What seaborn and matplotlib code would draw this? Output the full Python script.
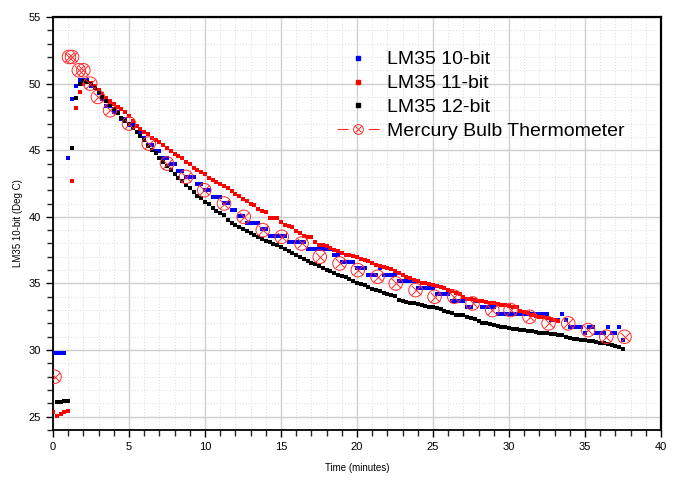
import numpy as np
import matplotlib
matplotlib.use("Agg")
import matplotlib.pyplot as plt
from matplotlib.lines import Line2D
from matplotlib.legend_handler import HandlerTuple
from matplotlib.ticker import MultipleLocator
import seaborn as sns

# LM35 readings logged every 15 s (0.25 min)
SAMPLE_STEP = 0.25

# 10-bit ADC, first sample at t = 0.0
lm35_10bit_start = 0.0
lm35_10bit = [
    29.79, 29.79, 29.79, 29.79,  # 0
    44.43, 48.83, 49.80, 50.29,  # 1
    50.29, 50.29, 49.80, 49.80,  # 2
    49.32, 48.83, 48.34, 48.34,  # 3
    47.85, 47.85, 47.36, 47.36,  # 4
    46.88, 46.88, 46.39, 46.39,  # 5
    45.90, 45.41, 45.41, 44.92,  # 6
    44.92, 44.43, 44.43, 43.95,  # 7
    43.95, 43.46, 43.46, 42.97,  # 8
    42.97, 42.97, 42.48, 42.48,  # 9
    41.99, 41.99, 41.50, 41.50,  # 10
    41.50, 41.02, 41.02, 40.53,  # 11
    40.53, 40.04, 40.04, 39.55,  # 12
    39.55, 39.55, 39.55, 39.06,  # 13
    39.06, 38.57, 38.57, 38.57,  # 14
    38.57, 38.57, 38.09, 38.09,  # 15
    38.09, 38.09, 38.09, 37.60,  # 16
    37.60, 37.60, 37.60, 37.60,  # 17
    37.60, 37.60, 37.11, 37.11,  # 18
    36.62, 36.62, 36.62, 36.62,  # 19
    36.13, 36.13, 36.13, 35.64,  # 20
    35.64, 35.64, 36.13, 35.64,  # 21
    35.64, 35.64, 35.64, 35.16,  # 22
    35.16, 35.16, 35.16, 35.16,  # 23
    34.67, 34.67, 34.67, 34.67,  # 24
    34.67, 34.18, 34.18, 34.18,  # 25
    34.18, 33.69, 33.69, 33.69,  # 26
    33.69, 33.20, 33.20, 33.69,  # 27
    33.69, 33.20, 33.20, 33.20,  # 28
    33.20, 32.71, 32.71, 32.71,  # 29
    32.71, 32.71, 32.71, 32.71,  # 30
    32.71, 32.71, 32.71, 32.71,  # 31
    32.71, 32.71, 32.71, 32.23,  # 32
    32.23, 32.23, 32.71, 32.23,  # 33
    31.74, 31.74, 31.74, 31.74,  # 34
    31.25, 31.74, 31.74, 31.25,  # 35
    31.25, 31.25, 31.74, 31.25,  # 36
    31.25, 31.74, 30.76,         # 37
]

# 11-bit ADC, stops after ~33 min
lm35_11bit_start = 0.0
lm35_11bit = [
    25.35, 25.07, 25.20, 25.38,  # 0
    25.40, 42.70, 48.20, 49.40,  # 1
    50.00, 50.10, 50.05, 49.80,  # 2
    49.50, 49.20, 48.95, 48.70,  # 3
    48.50, 48.25, 48.10, 47.90,  # 4
    47.60, 47.20, 46.85, 46.60,  # 5
    46.35, 46.25, 45.95, 45.80,  # 6
    45.60, 45.40, 45.15, 44.95,  # 7
    44.75, 44.60, 44.40, 44.15,  # 8
    43.95, 43.70, 43.50, 43.35,  # 9
    43.20, 42.95, 42.80, 42.65,  # 10
    42.50, 42.35, 42.15, 41.95,  # 11
    41.70, 41.55, 41.35, 41.20,  # 12
    41.00, 40.90, 40.60, 40.45,  # 13
    40.40, 39.90, 39.90, 39.90,  # 14
    39.60, 39.40, 39.30, 39.20,  # 15
    38.95, 38.75, 38.55, 38.45,  # 16
    38.45, 38.10, 37.90, 37.85,  # 17
    37.80, 37.65, 37.50, 37.40,  # 18
    37.30, 37.15, 37.10, 37.05,  # 19
    36.95, 36.85, 36.75, 36.70,  # 20
    36.50, 36.40, 36.30, 36.25,  # 21
    36.15, 36.10, 35.95, 35.75,  # 22
    35.65, 35.50, 35.40, 35.25,  # 23
    35.15, 35.05, 35.00, 34.95,  # 24
    34.90, 34.80, 34.75, 34.65,  # 25
    34.50, 34.45, 34.30, 34.20,  # 26
    34.00, 33.85, 33.80, 33.75,  # 27
    33.70, 33.70, 33.60, 33.55,  # 28
    33.50, 33.45, 33.40, 33.35,  # 29
    33.30, 33.25, 33.20, 32.95,  # 30
    32.85, 32.75, 32.60, 32.55,  # 31
    32.50, 32.45, 32.40, 32.35,  # 32
    32.25, 32.20,                # 33
]

# 12-bit ADC, first sample at t = 0.25
lm35_12bit_start = 0.25
lm35_12bit = [
    26.10, 26.10, 26.15,         # 0
    26.15, 45.20, 48.90, 50.00,  # 1
    50.20, 50.15, 50.00, 49.70,  # 2
    49.40, 49.00, 48.70, 48.40,  # 3
    48.10, 47.80, 47.45, 47.20,  # 4
    46.95, 46.70, 46.40, 46.05,  # 5
    45.80, 45.30, 45.05, 44.80,  # 6
    44.45, 44.10, 43.80, 43.55,  # 7
    43.25, 42.95, 42.70, 42.40,  # 8
    42.20, 41.90, 41.60, 41.40,  # 9
    41.15, 40.95, 40.70, 40.45,  # 10
    40.30, 40.15, 39.80, 39.55,  # 11
    39.35, 39.20, 39.10, 38.95,  # 12
    38.80, 38.65, 38.50, 38.35,  # 13
    38.20, 38.10, 37.95, 37.85,  # 14
    37.70, 37.55, 37.40, 37.25,  # 15
    37.10, 36.95, 36.85, 36.70,  # 16
    36.55, 36.45, 36.30, 36.15,  # 17
    36.00, 35.90, 35.80, 35.65,  # 18
    35.55, 35.45, 35.30, 35.20,  # 19
    35.05, 34.95, 34.85, 34.70,  # 20
    34.60, 34.50, 34.40, 34.30,  # 21
    34.20, 34.10, 34.05, 33.75,  # 22
    33.65, 33.60, 33.55, 33.50,  # 23
    33.45, 33.35, 33.30, 33.25,  # 24
    33.20, 33.15, 33.05, 32.95,  # 25
    32.85, 32.75, 32.65, 32.65,  # 26
    32.60, 32.50, 32.40, 32.30,  # 27
    32.20, 32.05, 32.00, 31.95,  # 28
    31.90, 31.80, 31.75, 31.70,  # 29
    31.65, 31.60, 31.55, 31.50,  # 30
    31.50, 31.45, 31.40, 31.35,  # 31
    31.30, 31.30, 31.25, 31.20,  # 32
    31.20, 31.15, 31.10, 31.00,  # 33
    30.90, 30.80, 30.80, 30.75,  # 34
    30.75, 30.70, 30.65, 30.60,  # 35
    30.55, 30.50, 30.45, 30.35,  # 36
    30.30, 30.20, 30.10,         # 37
]

# mercury thermometer, read by hand
mercury_min = [0.1, 1.05, 1.25, 1.7, 2.0, 2.45, 2.95, 3.75, 5.0, 6.3,
               7.5, 8.75, 9.95, 11.25, 12.55, 13.8, 15.05, 16.35, 17.55, 18.85,
               20.05, 21.35, 22.55, 23.85, 25.1, 26.4, 27.6, 28.9, 30.1, 31.35,
               32.6, 33.9, 35.2, 36.4, 37.6]
mercury_deg = [28.0, 52.0, 52.0, 51.0, 51.0, 50.0, 49.0, 48.0, 47.0, 45.5,
               44.0, 43.0, 42.0, 41.0, 40.0, 39.0, 38.5, 38.0, 37.0, 36.5,
               36.0, 35.5, 35.0, 34.5, 34.0, 34.0, 33.5, 33.0, 33.0, 32.5,
               32.0, 32.0, 31.5, 31.0, 31.0]


def sample_times(start, values):
    return start + SAMPLE_STEP * np.arange(len(values))


sns.set_theme(style="white")
plt.rcParams['font.family'] = ['Liberation Sans', 'DejaVu Sans']
plt.rcParams['text.color'] = 'black'
plt.rcParams['axes.labelcolor'] = 'black'

fig = plt.figure(figsize=(6.8, 4.8), dpi=100)
ax = fig.add_axes([53 / 680, 50 / 480, 608 / 680, 413 / 480])

dot_kw = dict(marker='s', s=5, linewidth=0, ax=ax, legend=False, zorder=3)
sns.scatterplot(x=sample_times(lm35_10bit_start, lm35_10bit), y=lm35_10bit,
                color='#0000ff', **dot_kw)
sns.scatterplot(x=sample_times(lm35_11bit_start, lm35_11bit), y=lm35_11bit,
                color='#ff0000', **dot_kw)
sns.scatterplot(x=sample_times(lm35_12bit_start, lm35_12bit), y=lm35_12bit,
                color='#000000', **dot_kw)

# circle with a cross for the mercury readings
sns.scatterplot(x=mercury_min, y=mercury_deg, marker='o', s=95,
                facecolor='none', edgecolor='#ff2a2a', linewidth=0.7,
                ax=ax, legend=False, zorder=4)
sns.scatterplot(x=mercury_min, y=mercury_deg, marker='x', s=45,
                color='#ff2a2a', linewidth=0.7, ax=ax, legend=False, zorder=4)

ax.set_xlim(0, 40)
ax.set_ylim(24, 55)
ax.xaxis.set_major_locator(MultipleLocator(5))
ax.xaxis.set_minor_locator(MultipleLocator(1))
ax.yaxis.set_major_locator(MultipleLocator(5))
ax.yaxis.set_minor_locator(MultipleLocator(1))

ax.grid(which='major', color='#cfcfcf', linewidth=1.0, linestyle='-')
ax.grid(which='minor', color='#d0d0d0', linewidth=0.6, linestyle=(0, (1, 2.5)))
ax.set_axisbelow(True)

ax.tick_params(which='major', direction='out', length=5, width=1,
               labelsize=8, colors='black', left=True, bottom=True)
ax.tick_params(which='minor', direction='out', length=4, width=1,
               left=True, bottom=True)

for side in ['left', 'bottom']:
    ax.spines[side].set_linewidth(1.3)
    ax.spines[side].set_color('black')
for side in ['top', 'right']:
    ax.spines[side].set_linewidth(1.6)
    ax.spines[side].set_color('black')

ax.set_xlabel("Time (minutes)", fontsize=7, labelpad=8)
ax.set_ylabel("LM35 10-bit (Deg C)", fontsize=7, labelpad=4)

handles = [
    Line2D([], [], color='#0000ff', marker='s', markersize=2.2, linestyle='none'),
    Line2D([], [], color='#ff0000', marker='s', markersize=2.2, linestyle='none'),
    Line2D([], [], color='#000000', marker='s', markersize=2.2, linestyle='none'),
    (Line2D([], [], color='#ff2a2a', linewidth=0.8, dashes=(10, 18)),
     Line2D([], [], color='#ff2a2a', marker='o', markersize=7, markerfacecolor='none',
            markeredgewidth=0.7, linestyle='none'),
     Line2D([], [], color='#ff2a2a', marker='x', markersize=5,
            markeredgewidth=0.7, linestyle='none')),
]
labels = ["LM35 10-bit", "LM35 11-bit", "LM35 12-bit", "Mercury Bulb Thermometer"]
ax.legend(handles, labels, loc='upper left', bbox_to_anchor=(0.467, 0.918),
          frameon=False, fontsize=14, borderpad=0, borderaxespad=0,
          handlelength=2.2, handletextpad=0.38, labelspacing=0.32,
          handler_map={tuple: HandlerTuple(ndivide=1, pad=0)})

fig.savefig("out.png", dpi=100)
